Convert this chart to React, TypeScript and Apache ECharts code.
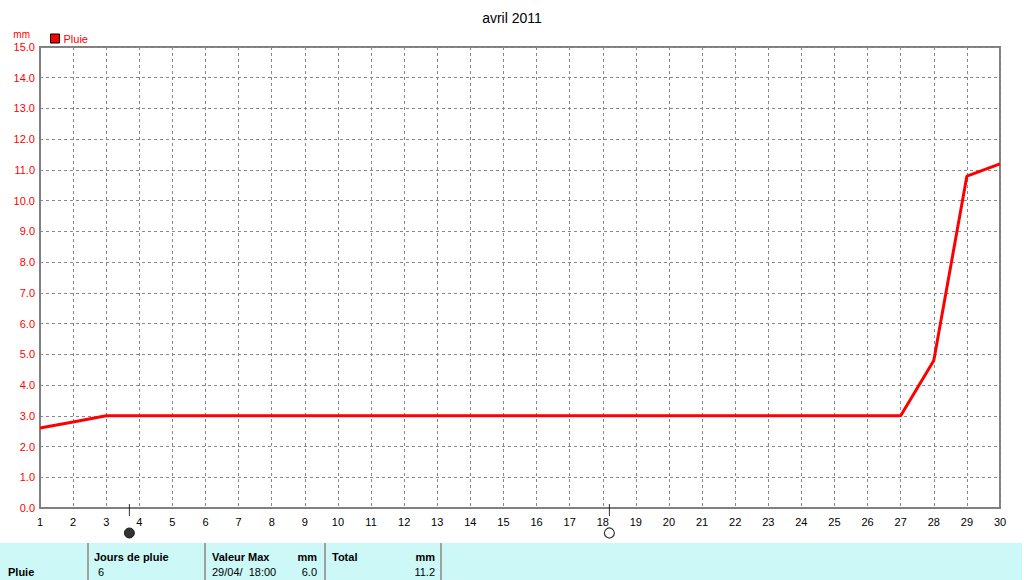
import React, { useEffect, useRef } from "react";
import * as echarts from "echarts";

const days = Array.from({ length: 30 }, (_, i) => i + 1);
const pluie = [2.6, 2.8, 3.0, 3.0, 3.0, 3.0, 3.0, 3.0, 3.0, 3.0, 3.0, 3.0, 3.0, 3.0, 3.0, 3.0, 3.0, 3.0, 3.0, 3.0, 3.0, 3.0, 3.0, 3.0, 3.0, 3.0, 3.0, 4.8, 10.8, 11.2];
const newMoon = [3.7];
const fullMoon = [18.2];
const tableHeaders = ["Jours de pluie", "Valeur Max", "Total"];
const tableValues = ["6", "29/04/  18:00", "6.0", "11.2"];

const FONT = "Liberation Sans, Arial, sans-serif";

export default function App() {
  const ref = useRef<HTMLDivElement>(null);
  useEffect(() => {
    const chart = echarts.init(ref.current!, null, { renderer: "svg" });
    const txt = (x: number, y: number, text: string, opts: any = {}) => ({
      type: "text",
      x,
      y,
      style: { text, fill: "#000", font: `${opts.bold ? "bold " : ""}11px ${FONT}`, textAlign: opts.align || "left", textVerticalAlign: "middle" },
    });
    const sep = (x: number) => ({
      type: "line",
      shape: { x1: x, y1: 543, x2: x, y2: 580 },
      style: { stroke: "#a0a0a0", lineWidth: 2 },
    });
    chart.setOption({
      animation: false,
      title: {
        text: "avril 2011",
        left: "center",
        top: 6,
        textStyle: { fontFamily: FONT, fontSize: 14, fontWeight: "normal", color: "#000" },
      },
      legend: {
        left: 50,
        top: 33,
        padding: 0,
        itemWidth: 9,
        itemHeight: 9,
        itemGap: 4,
        data: [{ name: "Pluie", icon: "rect", itemStyle: { color: "#ff0000", borderColor: "#000", borderWidth: 1 } }],
        textStyle: { color: "#ff0000", fontFamily: FONT, fontSize: 11, padding: [0, 0, 0, -1] },
      },
      grid: { left: 40, right: 24, top: 47, bottom: 72, show: true, borderColor: "#808080", borderWidth: 2 },
      xAxis: {
        type: "value",
        min: 1,
        max: 30,
        interval: 1,
        axisLine: { show: true, lineStyle: { color: "#808080", width: 2 } },
        axisTick: { show: false },
        axisLabel: { color: "#000", fontFamily: FONT, fontSize: 11, margin: 8 },
        splitLine: { show: true, lineStyle: { color: "#888888", type: [3, 3], width: 1 } },
      },
      yAxis: {
        type: "value",
        min: 0,
        max: 15,
        interval: 1,
        name: "mm",
        nameLocation: "end",
        nameGap: 8,
        nameTextStyle: { color: "#ff0000", fontFamily: FONT, fontSize: 10, align: "right", padding: [0, 10, 0, 0] },
        axisLine: { show: true, lineStyle: { color: "#808080", width: 2 } },
        axisTick: { show: false },
        axisLabel: { color: "#ff0000", fontFamily: FONT, fontSize: 11, margin: 5, formatter: (v: number) => v.toFixed(1) },
        splitLine: { show: true, lineStyle: { color: "#888888", type: [3, 3], width: 1 } },
      },
      series: [
        {
          name: "Pluie",
          type: "line",
          data: days.map((d, i) => [d, pluie[i]]),
          showSymbol: false,
          symbol: "none",
          lineStyle: { color: "#ff0000", width: 3 },
          itemStyle: { color: "#ff0000" },
        },
        {
          type: "scatter",
          silent: true,
          clip: false,
          data: [...newMoon, ...fullMoon].map((d) => [d, 0]),
          symbol: "rect",
          symbolSize: [1, 12],
          symbolOffset: [0, 2],
          itemStyle: { color: "#000" },
        },
        {
          type: "scatter",
          silent: true,
          clip: false,
          data: newMoon.map((d) => [d, 0]),
          symbol: "circle",
          symbolSize: 10,
          symbolOffset: [0, 25],
          itemStyle: { color: "#000", borderColor: "#000", borderWidth: 1 },
        },
        {
          type: "scatter",
          silent: true,
          clip: false,
          data: fullMoon.map((d) => [d, 0]),
          symbol: "circle",
          symbolSize: 10,
          symbolOffset: [0, 25],
          itemStyle: { color: "#fff", borderColor: "#000", borderWidth: 1.2 },
        },
      ],
      graphic: [
        { type: "rect", shape: { x: 0, y: 543, width: 1022, height: 37 }, style: { fill: "#ccf8f8" }, z: -1 },
        sep(88),
        sep(205),
        sep(325),
        sep(441),
        txt(8, 572, "Pluie", { bold: true }),
        txt(94, 557, tableHeaders[0], { bold: true }),
        txt(98, 572, tableValues[0]),
        txt(212, 557, tableHeaders[1], { bold: true }),
        txt(317, 557, "mm", { bold: true, align: "right" }),
        txt(212, 572, tableValues[1]),
        txt(317, 572, tableValues[2], { align: "right" }),
        txt(332, 557, tableHeaders[2], { bold: true }),
        txt(435, 557, "mm", { bold: true, align: "right" }),
        txt(435, 572, tableValues[3], { align: "right" }),
      ],
    });
    return () => chart.dispose();
  }, []);
  return <div ref={ref} style={{ position: "absolute", left: 0, top: 0, width: 1024, height: 580 }} />;
}
